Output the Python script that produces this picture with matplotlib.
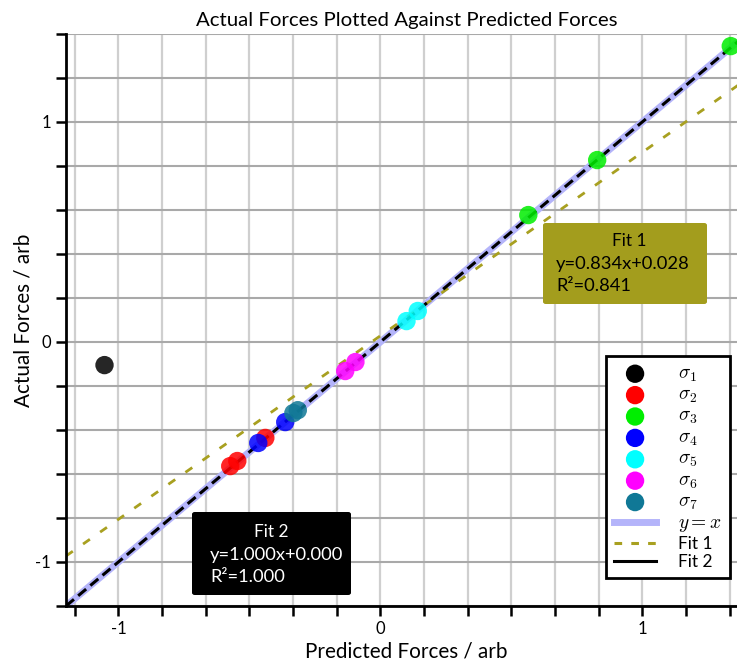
import numpy as np
import matplotlib
matplotlib.use("Agg")
import matplotlib.pyplot as plt
from matplotlib.lines import Line2D
from matplotlib.patches import FancyBboxPatch
from matplotlib.ticker import FixedLocator

plt.rcParams['font.family'] = ['Lato', 'DejaVu Sans']
plt.rcParams['mathtext.fontset'] = 'cm'

# Predicted vs actual forces for each stress component
series_labels = [r'$\sigma_1$', r'$\sigma_2$', r'$\sigma_3$', r'$\sigma_4$',
                 r'$\sigma_5$', r'$\sigma_6$', r'$\sigma_7$']
series_colors = ['#000000', '#ff0000', '#00ee00', '#0000ff',
                 '#00ffff', '#ff00ff', '#107896']
predicted = [
    [-1.053],
    [-0.573, -0.546, -0.439],
    [0.565, 0.828, 1.338],
    [-0.466, -0.363],
    [0.100, 0.143],
    [-0.134, -0.095],
    [-0.332, -0.315],
]
actual = [
    [-0.105],
    [-0.564, -0.541, -0.436],
    [0.577, 0.827, 1.345],
    [-0.459, -0.364],
    [0.095, 0.141],
    [-0.132, -0.091],
    [-0.323, -0.310],
]

# Linear fits (slope, intercept, R^2)
fit1 = (0.834, 0.028, 0.841)
fit2 = (1.000, 0.000, 1.000)

xlim = (-1.2, 1.4)
ylim = (-1.2, 1.4)

W, H = 737, 667
ax_left, ax_right, ax_top, ax_bottom = 66, 747, 34, 606   # pixels
fig = plt.figure(figsize=(W / 100, H / 100), dpi=100)
ax = fig.add_axes([ax_left / W, (H - ax_bottom) / H,
                   (ax_right - ax_left) / W, (ax_bottom - ax_top) / H])
ax.set_xlim(*xlim)
ax.set_ylim(*ylim)


def px_to_axes(px, py):
    """Pixel position on the canvas -> axes fraction."""
    return ((px - ax_left) / (ax_right - ax_left),
            (ax_bottom - py) / (ax_bottom - ax_top))


# grid: light verticals every 1/6, darker horizontals every 0.2
xgrid = np.arange(-7, 9) / 6.0
ygrid = np.arange(-6, 8) * 0.2
for gx in xgrid:
    ax.axvline(gx, color='#cfcfcf', lw=1.6, zorder=0)
for gy in ygrid:
    ax.axhline(gy, color='#a9a9a9', lw=1.5, zorder=0)

xs = np.array(xlim)
ax.plot(xs, xs, color='#b4b4fa', lw=5.0, solid_capstyle='butt', zorder=2)
ax.plot(xs, fit1[0] * xs + fit1[1], color='#a8a020', lw=2.0,
        dashes=(3.0, 4.5), zorder=2)
ax.plot(xs, fit2[0] * xs + fit2[1], color='black', lw=2.2,
        dashes=(3.4, 1.8), zorder=3)

for lab, col, px, py in zip(series_labels, series_colors, predicted, actual):
    ax.scatter(px, py, s=175, color=col, alpha=0.85, edgecolors='none',
               zorder=4, label=lab)

# spines and ticks
for side in ('top', 'right'):
    ax.spines[side].set_visible(False)
for side in ('left', 'bottom'):
    ax.spines[side].set_linewidth(2.0)
ax.xaxis.set_major_locator(FixedLocator([-1, 0, 1]))
ax.xaxis.set_minor_locator(FixedLocator(xgrid))
ax.yaxis.set_major_locator(FixedLocator([-1, 0, 1]))
ax.yaxis.set_minor_locator(FixedLocator(ygrid))
ax.set_xticklabels(['-1', '0', '1'])
ax.set_yticklabels(['-1', '0', '1'])
ax.tick_params(which='both', length=7, width=1.8, direction='out')
ax.tick_params(labelsize=12, pad=4)

ax.set_title('Actual Forces Plotted Against Predicted Forces', fontsize=14.7, pad=6)
ax.set_xlabel('Predicted Forces / arb', fontsize=14.9, labelpad=3)
ax.set_ylabel('Actual Forces / arb', fontsize=14.9, labelpad=1)


# fit annotation boxes
def fit_box(box_px, face, tcol, title, fit, title_px, line_x):
    (x0, y1), (x1, y0) = px_to_axes(*box_px[0]), px_to_axes(*box_px[1])
    ax.add_patch(FancyBboxPatch((x0, y0), x1 - x0, y1 - y0,
                                boxstyle='round,pad=0,rounding_size=0.004',
                                transform=ax.transAxes, facecolor=face,
                                edgecolor='none', zorder=5))
    tx, ty = px_to_axes(*title_px)
    lx, _ = px_to_axes(line_x, 0)
    ax.text(tx, ty, title, transform=ax.transAxes, ha='center', va='center',
            color=tcol, fontsize=12.5, zorder=6)
    ax.text(lx, ty - 0.040, 'y=%.3fx+%.3f' % (fit[0], fit[1]), transform=ax.transAxes,
            ha='left', va='center', color=tcol, fontsize=13.2, zorder=6)
    ax.text(lx, ty - 0.079, 'R\u00b2=%.3f' % fit[2], transform=ax.transAxes,
            ha='left', va='center', color=tcol, fontsize=13.2, zorder=6)


fit_box(((543, 223), (707, 304)), '#a39d1d', 'black', 'Fit 1', fit1, (629, 241), 556)
fit_box(((192, 512), (351, 595)), 'black', 'white', 'Fit 2', fit2, (271, 532), 210)

# legend
handles, labels = ax.get_legend_handles_labels()
handles += [Line2D([], [], color='#b4b4fa', lw=5),
            Line2D([], [], color='#a8a020', lw=2.2, dashes=(2.5, 3.0)),
            Line2D([], [], color='black', lw=2.2)]
labels += [r'$y = x$', 'Fit 1', 'Fit 2']
leg = ax.legend(handles, labels, loc='lower right', bbox_to_anchor=px_to_axes(730, 578),
                borderaxespad=0, fancybox=False, framealpha=1, edgecolor='black',
                fontsize=12.5, labelspacing=0.12, handlelength=2.4, handletextpad=1.3,
                borderpad=0.45, markerscale=1.0, scatterpoints=1)
leg.get_frame().set_linewidth(2.0)
leg.set_zorder(7)
for h in leg.legend_handles[:7]:
    h.set_alpha(1.0)
for t in leg.get_texts()[:8]:
    t.set_fontsize(14)

fig.savefig('out.png', dpi=100)
